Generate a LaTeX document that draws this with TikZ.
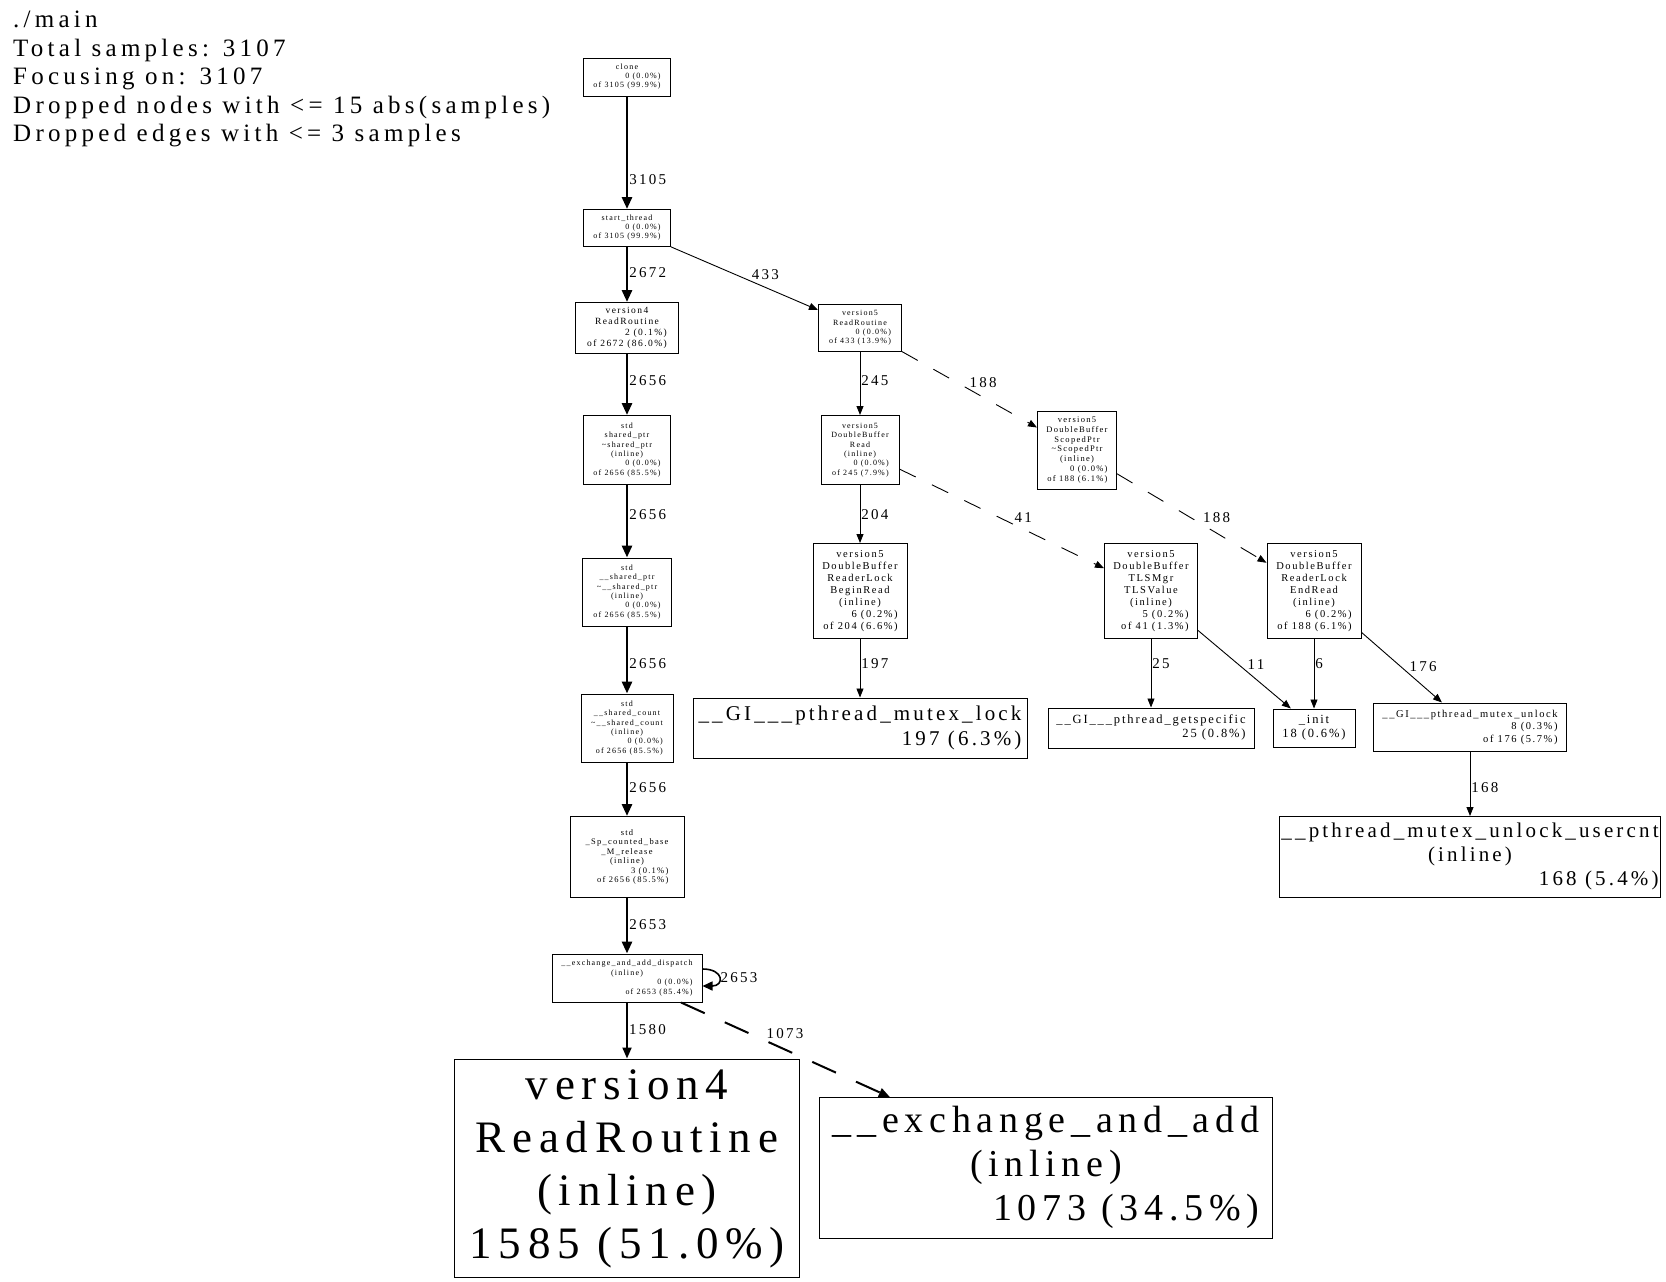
\documentclass[tikz,border=0pt]{standalone}
\usepackage{fontspec}
\setmainfont{Liberation Serif}
\newfontfamily\pf[LetterSpace=15]{Liberation Serif}
\newfontfamily\hf[LetterSpace=17]{Liberation Serif}
\usetikzlibrary{arrows.meta,positioning}
\newcommand\nm[1]{\multicolumn{1}{@{}c@{}}{#1}}
\newcommand\pp[1]{\begin{tabular}{@{}r@{}}#1\end{tabular}}

\begin{document}
\begin{tikzpicture}[
  x=1pt, y=-1pt,
  fn/.style={draw, line width=1pt, inner sep=0pt},
  sz/.style 2 args={minimum width=#1, minimum height=#2},
  fs/.style 2 args={font=\pf\fontsize{#1}{#2}\selectfont},
  el/.style={font=\pf\fontsize{15}{18}\selectfont, inner sep=1pt},
  hv/.style={line width=2.8pt, -{Triangle[length=12pt, width=10pt]}},
  md/.style={line width=2pt, -{Triangle[length=11pt, width=9pt]}},
  tn/.style={line width=0.9pt, -{Triangle[length=9pt, width=7pt]}},
  dsh/.style={dash pattern=on 18pt off 18pt}
]
\useasboundingbox (0,0) rectangle (1666,1282);

\node[font=\hf\fontsize{25}{28.5}\selectfont, align=left, anchor=north west, inner sep=0pt] (hdr) at (13,11)
  {./main\\Total samples: 3107\\Focusing on: 3107\\Dropped nodes with <= 15 abs(samples)\\Dropped edges with <= 3 samples};

% main chain
\node[fn, sz={87}{38}, fs={8}{9}] (clone) at (627,77) {\pp{\nm{clone}\\0 (0.0\%)\\of 3105 (99.9\%)}};
\node[fn, sz={87}{37}, fs={8}{9}] (st) at (627,228) {\pp{\nm{start\_thread}\\0 (0.0\%)\\of 3105 (99.9\%)}};
\node[fn, sz={103}{51}, fs={9.5}{11}] (v4rr) at (627,328) {\pp{\nm{version4}\\\nm{ReadRoutine}\\2 (0.1\%)\\of 2672 (86.0\%)}};
\node[fn, sz={87}{69}, fs={8}{9.3}] (sp) at (627,450) {\pp{\nm{std}\\\nm{shared\_ptr}\\\nm{\textasciitilde shared\_ptr}\\\nm{(inline)}\\0 (0.0\%)\\of 2656 (85.5\%)}};
\node[fn, sz={89}{68}, fs={8}{9.3}] (sp2) at (627,592) {\pp{\nm{std}\\\nm{\_\_shared\_ptr}\\\nm{\textasciitilde\_\_shared\_ptr}\\\nm{(inline)}\\0 (0.0\%)\\of 2656 (85.5\%)}};
\node[fn, sz={92}{68}, fs={8}{9.3}] (cnt) at (627,728) {\pp{\nm{std}\\\nm{\_\_shared\_count}\\\nm{\textasciitilde\_\_shared\_count}\\\nm{(inline)}\\0 (0.0\%)\\of 2656 (85.5\%)}};
\node[fn, sz={114}{81}, fs={8.5}{9.5}] (spb) at (627,857) {\pp{\nm{std}\\\nm{\_Sp\_counted\_base}\\\nm{\_M\_release}\\\nm{(inline)}\\3 (0.1\%)\\of 2656 (85.5\%)}};
\node[fn, sz={150}{48}, fs={8}{9.5}] (disp) at (627,978) {\pp{\nm{\_\_exchange\_and\_add\_dispatch}\\\nm{(inline)}\\0 (0.0\%)\\of 2653 (85.4\%)}};
\node[fn, sz={345}{218}, fs={45}{53}] (v4) at (627,1168) {\pp{\nm{version4}\\\nm{ReadRoutine}\\\nm{(inline)}\\1585 (51.0\%)}};
\node[fn, sz={453}{141}, fs={38}{44}] (xadd) at (1046,1168) {\pp{\nm{\_\_exchange\_and\_add}\\\nm{(inline)}\\1073 (34.5\%)}};

% version5 branch
\node[fn, sz={83}{47}, fs={8}{9.3}] (v5rr) at (860,328) {\pp{\nm{version5}\\\nm{ReadRoutine}\\0 (0.0\%)\\of 433 (13.9\%)}};
\node[fn, sz={78}{69}, fs={8}{9.3}] (v5rd) at (860,450) {\pp{\nm{version5}\\\nm{DoubleBuffer}\\\nm{Read}\\\nm{(inline)}\\0 (0.0\%)\\of 245 (7.9\%)}};
\node[fn, sz={94}{95}, fs={10.5}{12}] (brd) at (860,591) {\pp{\nm{version5}\\\nm{DoubleBuffer}\\\nm{ReaderLock}\\\nm{BeginRead}\\\nm{(inline)}\\6 (0.2\%)\\of 204 (6.6\%)}};
\node[fn, sz={334}{60}, fs={21}{24.5}] (mlock) at (860,728) {\pp{\nm{\_\_GI\_\_\_pthread\_mutex\_lock}\\197 (6.3\%)}};
\node[fn, sz={79}{78}, fs={8.5}{9.7}] (sptr) at (1077,450) {\pp{\nm{version5}\\\nm{DoubleBuffer}\\\nm{ScopedPtr}\\\nm{\textasciitilde ScopedPtr}\\\nm{(inline)}\\0 (0.0\%)\\of 188 (6.1\%)}};
\node[fn, sz={93}{95}, fs={10.5}{12}] (tls) at (1151,591) {\pp{\nm{version5}\\\nm{DoubleBuffer}\\\nm{TLSMgr}\\\nm{TLSValue}\\\nm{(inline)}\\5 (0.2\%)\\of 41 (1.3\%)}};
\node[fn, sz={94}{95}, fs={10.5}{12}] (erd) at (1314,591) {\pp{\nm{version5}\\\nm{DoubleBuffer}\\\nm{ReaderLock}\\\nm{EndRead}\\\nm{(inline)}\\6 (0.2\%)\\of 188 (6.1\%)}};
\node[fn, sz={206}{40}, fs={12.5}{14}] (gsp) at (1151,728) {\pp{\nm{\_\_GI\_\_\_pthread\_getspecific}\\25 (0.8\%)}};
\node[fn, sz={82}{38}, fs={12.5}{14}] (init) at (1314,728) {\pp{\nm{\_init}\\18 (0.6\%)}};
\node[fn, sz={193}{48}, fs={10.5}{12.5}] (munl) at (1470,727) {\pp{\nm{\_\_GI\_\_\_pthread\_mutex\_unlock}\\8 (0.3\%)\\of 176 (5.7\%)}};
\node[fn, sz={381}{81}, fs={21}{24}] (ucnt) at (1470,857) {\pp{\nm{\_\_pthread\_mutex\_unlock\_usercnt}\\\nm{(inline)}\\168 (5.4\%)}};

% edges
\draw[hv] (clone) -- node[el, pos=.74, anchor=west]{3105} (st);
\draw[hv] (st) -- node[el, pos=.47, anchor=west]{2672} (v4rr);
\draw[tn] (st) -- node[el, pos=.54, anchor=south west]{433} (v5rr);
\draw[hv] (v4rr) -- node[el, pos=.44, anchor=west]{2656} (sp);
\draw[hv] (sp) -- node[el, pos=.41, anchor=west]{2656} (sp2);
\draw[hv] (sp2) -- node[el, pos=.56, anchor=west]{2656} (cnt);
\draw[hv] (cnt) -- node[el, pos=.47, anchor=west]{2656} (spb);
\draw[hv] (spb) -- node[el, pos=.48, anchor=west]{2653} (disp);
\draw[line width=1.6pt, -{Triangle[length=10pt, width=9pt]}] ([yshift=9pt]disp.east) to[out=0, in=0, looseness=3.3] node[el, anchor=west]{2653} ([yshift=-8pt]disp.east);
\draw[md] (disp) -- node[el, pos=.49, anchor=west]{1580} (v4);
\draw[md, dash pattern=on 26pt off 22pt] (disp) -- node[el, pos=.40, anchor=south west]{1073} (xadd);
\draw[tn] (v5rr) -- node[el, pos=.45, anchor=west]{245} (v5rd);
\draw[tn, dsh] (v5rr) -- node[el, pos=.49, anchor=south west]{188} (sptr);
\draw[tn] (v5rd) -- node[el, pos=.51, anchor=west]{204} (brd);
\draw[tn, dsh] (v5rd) -- node[el, pos=.556, anchor=south west]{41} (tls);
\draw[tn, dsh] (sptr) -- node[el, pos=.567, anchor=south west]{188} (erd);
\draw[tn] (brd) -- node[el, pos=.42, anchor=west]{197} (mlock);
\draw[tn] (tls) -- node[el, pos=.36, anchor=west]{25} (gsp);
\draw[tn] (tls) -- node[el, pos=.52, anchor=south west]{11} (init);
\draw[tn] (erd) -- node[el, pos=.36, anchor=west]{6} (init);
\draw[tn] (erd) -- node[el, pos=.58, anchor=south west]{176} (munl);
\draw[tn] (munl) -- node[el, pos=.56, anchor=west]{168} (ucnt);
\end{tikzpicture}
\end{document}
